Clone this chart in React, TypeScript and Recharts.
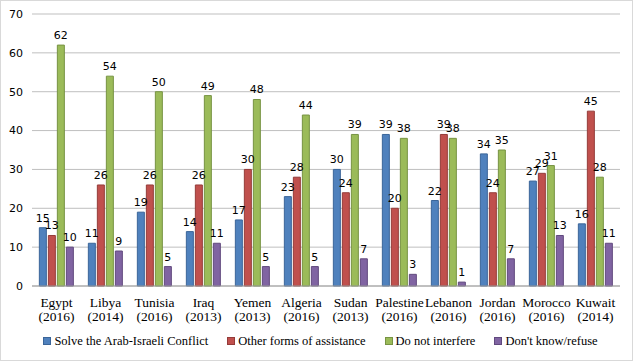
import { Bar, BarChart, CartesianGrid, LabelList, Legend, XAxis, YAxis } from "recharts";

const countries = ["Egypt", "Libya", "Tunisia", "Iraq", "Yemen", "Algeria", "Sudan", "Palestine", "Lebanon", "Jordan", "Morocco", "Kuwait"];
const years = ["2016", "2014", "2016", "2013", "2013", "2016", "2013", "2016", "2016", "2016", "2016", "2014"];

const solveConflict = [15, 11, 19, 14, 17, 23, 30, 39, 22, 34, 27, 16];
const otherAssistance = [13, 26, 26, 26, 30, 28, 24, 20, 39, 24, 29, 45];
const doNotInterfere = [62, 54, 50, 49, 48, 44, 39, 38, 38, 35, 31, 28];
const dontKnow = [10, 9, 5, 11, 5, 5, 7, 3, 1, 7, 13, 11];

const yTicks = [0, 10, 20, 30, 40, 50, 60, 70];

const data = countries.map((c, i) => ({
  name: c,
  year: years[i],
  solve: solveConflict[i],
  other: otherAssistance[i],
  noInterfere: doNotInterfere[i],
  dontKnow: dontKnow[i],
}));

const series = [
  { key: "solve", name: "Solve the Arab-Israeli Conflict", fill: "#4F81BD", stroke: "#3A6599" },
  { key: "other", name: "Other forms of assistance", fill: "#C0504D", stroke: "#943B39" },
  { key: "noInterfere", name: "Do not interfere", fill: "#9BBB59", stroke: "#779343" },
  { key: "dontKnow", name: "Don't know/refuse", fill: "#8064A2", stroke: "#61497E" },
];

const serif = "'Liberation Serif', serif";
const sans = "'DejaVu Sans', sans-serif";

function CountryTick(props: any) {
  const { x, y, payload } = props;
  const year = years[payload.index];
  return (
    <text x={x} y={y} textAnchor="middle" fontFamily={serif} fontSize={13.5} fill="#000">
      <tspan x={x} dy={13}>{payload.value}</tspan>
      <tspan x={x} dy={13.5}>({year})</tspan>
    </text>
  );
}

function LegendContent() {
  return (
    <div style={{ display: "flex", justifyContent: "center", gap: 19, height: 16, fontFamily: serif, fontSize: 12.5, color: "#000", lineHeight: "16px", paddingLeft: 8 }}>
      {series.map((s) => (
        <div key={s.key} style={{ display: "flex", alignItems: "center" }}>
          <span style={{ display: "inline-block", width: 6, height: 6, background: s.fill, border: `1px solid ${s.stroke}`, marginRight: 3 }} />
          <span>{s.name}</span>
        </div>
      ))}
    </div>
  );
}

export default function App() {
  return (
    <div style={{ position: "absolute", left: 0, top: 0, width: 633, height: 361, boxSizing: "border-box", border: "1px solid #D9D9D9", background: "#fff" }}>
      <BarChart
        width={631}
        height={359}
        data={data}
        margin={{ top: 13, right: 12, left: 0, bottom: 28 }}
        barGap={2}
        barCategoryGap="15%"
      >
        <CartesianGrid vertical={false} stroke="#BFBFBF" />
        <XAxis dataKey="name" interval={0} tick={<CountryTick />} tickLine={false} stroke="#A0A0A0" />
        <YAxis
          width={31}
          domain={[0, 70]}
          ticks={yTicks}
          axisLine={false}
          tickLine={false}
          tickSize={0}
          tickMargin={9}
          tick={{ fontFamily: sans, fontSize: 11, fill: "#000" }}
        />
        <Legend verticalAlign="bottom" content={<LegendContent />} wrapperStyle={{ top: 332, bottom: "auto", left: 0, width: 631 }} />
        {series.map((s) => (
          <Bar key={s.key} dataKey={s.key} name={s.name} fill={s.fill} stroke={s.stroke} strokeWidth={1} isAnimationActive={false}>
            <LabelList dataKey={s.key} position="top" offset={6} style={{ fontFamily: sans, fontSize: 11, fill: "#000" }} />
          </Bar>
        ))}
      </BarChart>
    </div>
  );
}
